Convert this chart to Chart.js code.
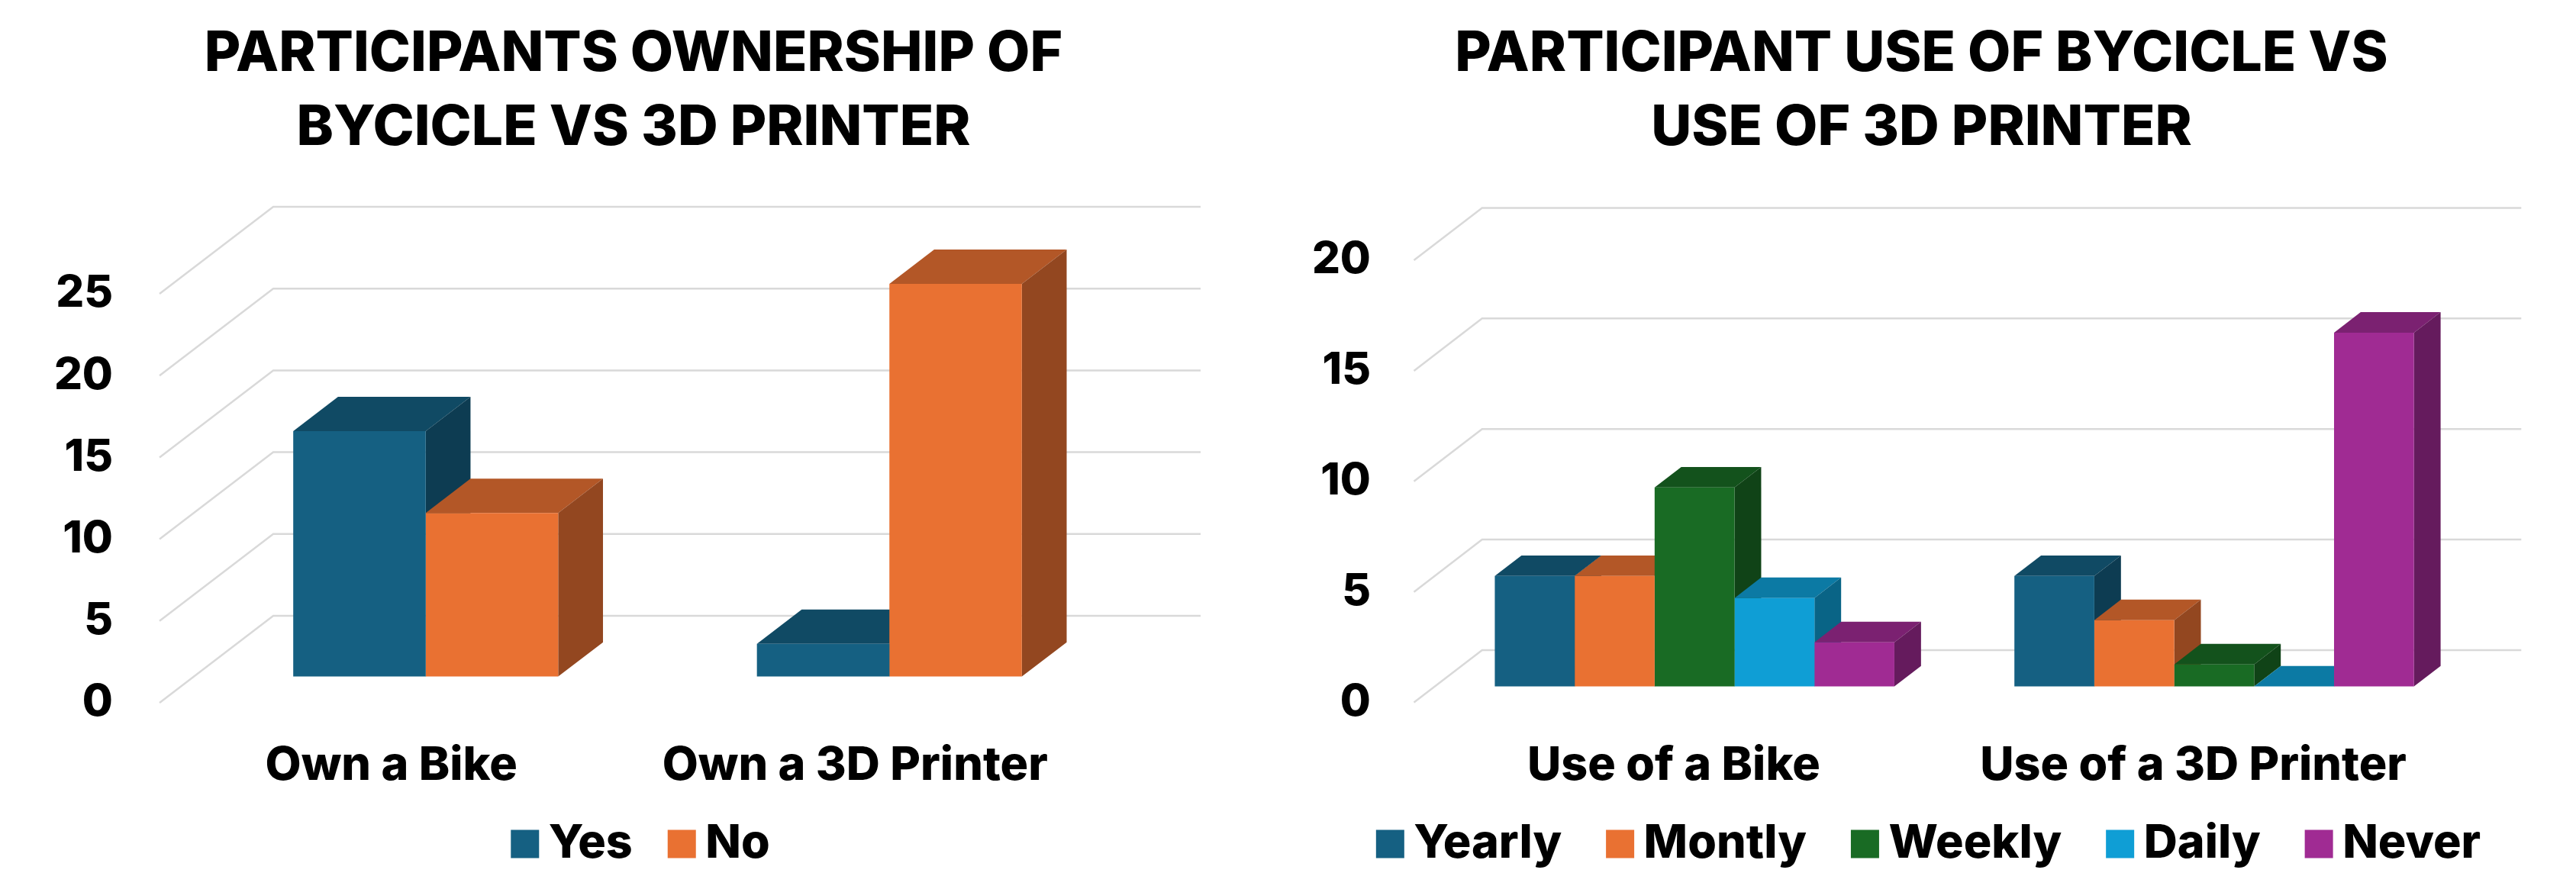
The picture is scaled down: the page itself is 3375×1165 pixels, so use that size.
<!DOCTYPE html>
<html>
<head>
<meta charset="utf-8">
<title>Bicycle vs 3D printer</title>
<script src="https://cdn.jsdelivr.net/npm/chart.js@4"></script>
<style>
    html, body { margin: 0; padding: 0; background: #fff; overflow: hidden; height: 1165px; }
    #wrap { position: relative; width: 3375px; height: 1165px; overflow: hidden; }
    /* boxes run past the bottom edge so the x axis has room for its labels */
    #wrap div { position: absolute; top: 0; height: 1240px; }
    #leftBox { left: 0; width: 1660px; }
    #rightBox { left: 1660px; width: 1715px; }
</style>
</head>
<body>
<div id="wrap">
    <div id="leftBox"><canvas id="ownChart"></canvas></div>
    <div id="rightBox"><canvas id="useChart"></canvas></div>
</div>
<script>
// Data
const ownCategories = ['Own a Bike', 'Own a 3D Printer'];
const ownYes = [15, 2];
const ownNo = [10, 24];
const ownTicks = [0, 5, 10, 15, 20, 25];

const useCategories = ['Use of a Bike', 'Use of a 3D Printer'];
const useYearly = [5, 5];
const useMontly = [5, 3];
const useWeekly = [9, 1];
const useDaily = [4, 0];
const useNever = [2, 16];
const useTicks = [0, 5, 10, 15, 20];

const BLUE = '#156082';
const ORANGE = '#E97132';
const GREEN = '#196B24';
const SKY = '#0F9ED5';
const PURPLE = '#A02B93';

const FONT = 'Inter, "Noto Sans", sans-serif';

function shade(hex, k) {
    const n = parseInt(hex.slice(1), 16);
    const r = Math.round((n >> 16 & 255) * k);
    const g = Math.round((n >> 8 & 255) * k);
    const b = Math.round((n & 255) * k);
    return `rgb(${r}, ${g}, ${b})`;
}

function fillPoly(ctx, pts, color) {
    ctx.beginPath();
    pts.forEach((p, i) => i ? ctx.lineTo(p[0], p[1]) : ctx.moveTo(p[0], p[1]));
    ctx.closePath();
    ctx.fillStyle = color;
    ctx.fill();
}

// Fake 3D look: walls and grid behind, top and side faces on the bars
const box3d = {
    id: 'box3d',
    afterLayout(chart, args, opts) {
        // legend sits off centre in the reference
        const lg = chart.legend;
        const shift = opts.legendX - (lg.left + lg.right) / 2;
        const pad = lg.options.labels.padding;
        const h = lg.height;
        lg.left += shift;
        lg.right += shift;
        lg.top = opts.legendY - pad - lg.options.labels.font.size / 2;
        lg.bottom = lg.top + h;
    },
    beforeDatasetsDraw(chart, args, opts) {
        const { ctx, chartArea, scales } = chart;
        const [wx, wy] = opts.wall;
        ctx.save();
        ctx.strokeStyle = '#D9D9D9';
        ctx.lineWidth = 2.5;
        scales.y.ticks.forEach(t => {
            const y = scales.y.getPixelForValue(t.value);
            ctx.beginPath();
            ctx.moveTo(chartArea.left, y);
            ctx.lineTo(chartArea.left + wx, y - wy);
            ctx.lineTo(chartArea.right + wx, y - wy);
            ctx.stroke();
        });
        ctx.restore();

        // bars live on a plane a bit behind the axis plane
        ctx.save();
        ctx.translate(wx * opts.front, -wy * opts.front);
        const dx = wx * opts.depth;
        const dy = wy * opts.depth;
        chart.data.datasets.forEach((ds, i) => {
            chart.getDatasetMeta(i).data.forEach(bar => {
                const l = bar.x - bar.width / 2;
                const r = bar.x + bar.width / 2;
                fillPoly(ctx, [[l, bar.y], [r, bar.y], [r + dx, bar.y - dy], [l + dx, bar.y - dy]], shade(ds.backgroundColor, 0.77));
                fillPoly(ctx, [[r, bar.y], [r + dx, bar.y - dy], [r + dx, bar.base - dy], [r, bar.base]], shade(ds.backgroundColor, 0.63));
            });
        });
    },
    afterDatasetsDraw(chart) {
        chart.ctx.restore();
    }
};

function makeChart(id, cfg) {
    return new Chart(document.getElementById(id), {
        type: 'bar',
        data: { labels: cfg.labels, datasets: cfg.datasets },
        options: {
            responsive: true,
            maintainAspectRatio: false,
            animation: false,
            datasets: { bar: { barPercentage: 1, categoryPercentage: cfg.catPct, borderWidth: 0, clip: false } },
            plugins: {
                title: {
                    display: true,
                    text: cfg.title,
                    color: '#000',
                    font: { family: FONT, size: 73, weight: '800', lineHeight: '97px' },
                    padding: { top: 23, bottom: cfg.titleGap }
                },
                legend: {
                    position: 'bottom',
                    labels: {
                        color: '#000',
                        font: { family: FONT, size: 61, weight: '800' },
                        usePointStyle: true,
                        pointStyle: 'rect',
                        boxWidth: 1,
                        boxHeight: 37,
                        padding: cfg.legendPad
                    }
                },
                tooltip: { enabled: false },
                box3d: {
                    wall: cfg.wall,
                    front: cfg.front,
                    depth: cfg.depth,
                    legendX: cfg.legendX,
                    legendY: 1106
                }
            },
            scales: {
                x: {
                    grid: { display: false },
                    border: { display: false },
                    ticks: { color: '#000', font: { family: FONT, size: 61, weight: '800' }, padding: 38, maxRotation: 0, autoSkip: false },
                    afterFit: a => { a.height = cfg.xAxisH; }
                },
                y: {
                    min: 0,
                    max: cfg.ticks[cfg.ticks.length - 1],
                    grid: { display: false },
                    border: { display: false },
                    ticks: { color: '#000', font: { family: FONT, size: 58, weight: '800' }, padding: cfg.tickPad },
                    afterBuildTicks: a => { a.ticks = cfg.ticks.map(v => ({ value: v })); },
                    afterFit: a => { a.width = cfg.yAxisW; }
                },
                // empty axis, only keeps room on the right for the walls
                pad: {
                    type: 'linear',
                    position: 'right',
                    grid: { display: false },
                    border: { display: false },
                    ticks: { display: false },
                    afterFit: a => { a.width = cfg.rightW; }
                }
            }
        },
        plugins: [box3d]
    });
}

makeChart('ownChart', {
    labels: ownCategories,
    title: ['PARTICIPANTS OWNERSHIP OF', 'BYCICLE VS 3D PRINTER'],
    datasets: [
        { label: 'Yes', data: ownYes, backgroundColor: BLUE },
        { label: 'No', data: ownNo, backgroundColor: ORANGE }
    ],
    ticks: ownTicks,
    catPct: 0.5714,
    wall: [149, 114],
    front: 0.302,
    depth: 0.394,
    titleGap: 168,
    legendPad: 64,
    legendX: 848,
    xAxisH: 184,
    yAxisW: 209,
    rightW: 236,
    tickPad: 53
});

makeChart('useChart', {
    labels: useCategories,
    title: ['PARTICIPANT USE OF BYCICLE VS', 'USE OF 3D PRINTER'],
    datasets: [
        { label: 'Yearly', data: useYearly, backgroundColor: BLUE },
        { label: 'Montly', data: useMontly, backgroundColor: ORANGE },
        { label: 'Weekly', data: useWeekly, backgroundColor: GREEN },
        { label: 'Daily', data: useDaily, backgroundColor: SKY },
        { label: 'Never', data: useNever, backgroundColor: PURPLE }
    ],
    ticks: useTicks,
    catPct: 0.769,
    wall: [89.3, 68.6],
    front: 0.306,
    depth: 0.391,
    titleGap: 124,
    legendPad: 76,
    legendX: 875.5,
    xAxisH: 172.4,
    yAxisW: 192.5,
    rightW: 161,
    tickPad: 48.5
});
</script>
</body>
</html>
